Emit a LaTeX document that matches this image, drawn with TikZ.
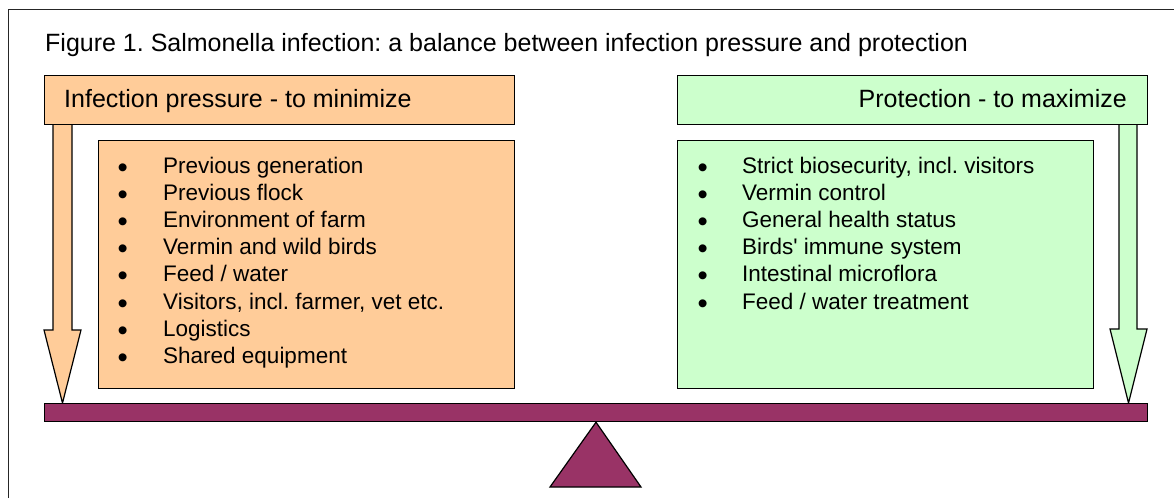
\documentclass[tikz,border=0pt]{standalone}
\usepackage{fontspec}
\setmainfont{Liberation Sans}
\definecolor{infect}{HTML}{FFCC99}
\definecolor{protect}{HTML}{CCFFCC}
\definecolor{beamcol}{HTML}{993366}
\newcommand{\itembullet}{\smash{\raisebox{-4pt}{\scalebox{1.3}{•}}}}
\begin{document}
\frenchspacing
\begin{tikzpicture}[x=1pt,y=-1pt,
  outline/.style={draw=black, line width=1.2pt},
  hdrtext/.style={inner sep=0pt, font=\fontsize{25}{29}\selectfont},
  itemtext/.style={inner sep=0pt, anchor=base west, font=\fontsize{22.5}{27}\selectfont},
  panel/.style={outline, inner sep=0pt, anchor=north west}]
\useasboundingbox (0,0) rectangle (1174,498);
% outer frame
\draw[line width=1pt, draw=black!85] (8,498) -- (8,9) -- (1174,9);
% title
\node[hdrtext, anchor=base west] (title) at (45,51.7)
  {Figure 1. Salmonella infection: a balance between infection pressure and protection};
% block arrows
\draw[outline, fill=infect] (53,120) -- (53,330) -- (44,330) -- (62.5,403) -- (81,330) -- (72,330) -- (72,120) -- cycle;
\draw[outline, fill=protect] (1119,120) -- (1119,329) -- (1110,329) -- (1128.5,403) -- (1147,329) -- (1137,329) -- (1137,120) -- cycle;
% header boxes
\node[panel, fill=infect, minimum width=470, minimum height=49] (lhead) at (44,75) {};
\node[hdrtext, anchor=base west] (lheadtxt) at (64,107.3) {Infection pressure - to minimize};
\node[panel, fill=protect, minimum width=470, minimum height=49] (rhead) at (677,75) {};
\node[hdrtext, anchor=base east] (rheadtxt) at (1127,107.3) {Protection - to maximize};
% list boxes
\node[panel, fill=infect, minimum width=416, minimum height=248] (lbox) at (98,140) {};
\node[panel, fill=protect, minimum width=416, minimum height=248] (rbox) at (677,140) {};
\foreach \t [count=\i] in {Previous generation, Previous flock, Environment of farm,
  Vermin and wild birds, Feed / water, {Visitors, incl. farmer, vet etc.}, Logistics, Shared equipment}
  \node[itemtext] (litem\i) at (117.5,{173.3+(\i-1)*27.15}) {\makebox[45.5pt][l]{\itembullet}\t};
\foreach \t [count=\i] in {{Strict biosecurity, incl. visitors}, Vermin control, General health status,
  Birds\textquotesingle\ immune system, Intestinal microflora, Feed / water treatment}
  \node[itemtext] (ritem\i) at (697.5,{173.3+(\i-1)*27.15}) {\makebox[44.5pt][l]{\itembullet}\t};
% balance beam and fulcrum
\node[panel, fill=beamcol, minimum width=1103, minimum height=18] (beam) at (44,403) {};
\draw[outline, fill=beamcol] (beam.south -| 596,0) -- (550,487) -- (641,487) -- cycle;
\end{tikzpicture}
\end{document}
